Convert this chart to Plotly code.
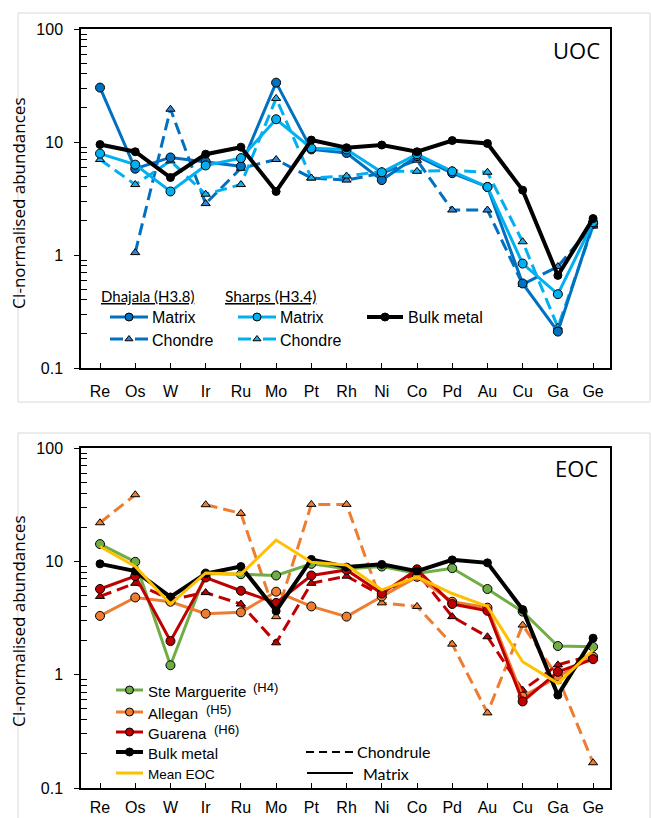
import plotly.graph_objects as go

W, H = 651, 818

# ---------------- data ----------------
elements = ["Re", "Os", "W", "Ir", "Ru", "Mo", "Pt", "Rh", "Ni", "Co", "Pd", "Au", "Cu", "Ga", "Ge"]
y_tick_vals = [0.1, 1, 10, 100]
y_tick_text = ["0.1", "1", "10", "100"]

# UOC panel
dhajala_matrix = [30.3, 5.8, 7.3, 6.7, 6.1, 33.5, 8.6, 8.0, 4.6, 7.5, 5.3, 4.0, 0.56, 0.21, 1.9]
dhajala_chondre = [None, 1.05, 19.5, 2.85, 5.85, 7.0, 4.8, 4.6, 5.3, 6.9, 2.5, 2.5, 0.55, 0.79, 1.85]
sharps_matrix = [7.9, 6.3, 3.65, 6.2, 7.2, 15.9, 8.8, 8.6, 5.4, 7.8, 5.5, 4.0, 0.84, 0.45, 1.95]
sharps_chondre = [7.0, 4.2, 6.8, 3.45, 4.2, 24.3, 4.8, 5.0, 5.5, 5.5, 5.6, 5.4, 1.31, 0.23, 1.8]
bulk_metal = [9.5, 8.2, 4.85, 7.8, 9.0, 3.65, 10.4, 8.9, 9.4, 8.2, 10.3, 9.7, 3.75, 0.66, 2.1]

# EOC panel
ste_marguerite = [14.2, 9.9, 1.21, 7.8, 7.7, 7.5, 9.5, 8.6, 9.0, 7.8, 8.7, 5.7, 3.6, 1.79, 1.76]
allegan = [3.3, 4.8, 4.4, 3.45, 3.55, 5.4, 4.0, 3.25, 4.9, 7.3, 4.4, 3.9, 0.64, 0.96, 1.44]
guarena = [5.7, 7.4, 1.98, 7.2, 5.5, 4.3, 7.5, 8.4, 5.2, 8.5, 4.2, 3.66, 0.58, 1.06, 1.37]
allegan_chondrule = [21.9, 38.7, None, 31.6, 26.5, 3.25, 31.8, 31.8, 4.3, 4.0, 1.86, 0.46, 2.74, 0.95, 0.167]
guarena_chondrule = [4.9, 6.4, 4.6, 5.3, 4.2, 1.91, 6.4, 7.4, 5.0, 8.0, 3.25, 2.16, 0.73, 1.22, 1.49]
mean_eoc = [13.5, 9.0, 4.2, 7.9, 7.7, 15.4, 9.8, 9.3, 5.6, 7.3, 5.2, 4.0, 1.3, 0.84, 1.65]

# minor tick positions (styling only)
minor_digits = [2, 3, 4, 5, 6, 7, 8, 9]
decades = [0.1, 1, 10]
minor_vals = [d * m for d in decades for m in minor_digits]

# ---------------- styles ----------------
C_DHA = "#0070C0"
C_SHA = "#00B0F0"
C_GRN = "#70AD47"
C_ORG = "#ED7D31"
C_RED = "#C00000"
C_YEL = "#FFC000"
ARIAL = "Liberation Sans, Arial, sans-serif"
CALI = "Lato, Calibri, sans-serif"
SEGOE = "Open Sans, Segoe UI, sans-serif"
DASH = "12px,6px"


def px(x):
    return x / W


def py(y):
    return 1 - y / H


fig = go.Figure()


def series(y, color, xa, ya, dash="solid", symbol="circle", width=3, mfill=None, size=9, mode="lines+markers"):
    fig.add_trace(go.Scatter(
        x=elements, y=y, mode=mode, xaxis=xa, yaxis=ya,
        line=dict(color=color, width=width, dash=dash),
        marker=dict(symbol=symbol, size=size, color=mfill or color, line=dict(color="black", width=1)),
        showlegend=False, hoverinfo="skip", connectgaps=False,
    ))


# top panel
series(dhajala_chondre, C_DHA, "x", "y", dash=DASH, symbol="triangle-up", mfill="#2E86D6", size=8)
series(sharps_chondre, C_SHA, "x", "y", dash=DASH, symbol="triangle-up", mfill="#1AAEE8", size=8)
series(dhajala_matrix, C_DHA, "x", "y")
series(sharps_matrix, C_SHA, "x", "y")
series(bulk_metal, "black", "x", "y", width=4, size=8, mfill="black")

# bottom panel
series(allegan_chondrule, C_ORG, "x2", "y2", dash=DASH, symbol="triangle-up", size=8)
series(guarena_chondrule, C_RED, "x2", "y2", dash=DASH, symbol="triangle-up", size=8)
series(ste_marguerite, C_GRN, "x2", "y2")
series(allegan, C_ORG, "x2", "y2")
series(guarena, C_RED, "x2", "y2")
series(bulk_metal, "black", "x2", "y2", width=4, size=8, mfill="black")
series(mean_eoc, C_YEL, "x2", "y2", mode="lines")


# ---------------- legends (drawn on an overlay pixel axis) ----------------
def leg_line(x0, x1, y, color, width=3, dash="solid"):
    fig.add_trace(go.Scatter(x=[x0, x1], y=[y, y], mode="lines", xaxis="x3", yaxis="y3",
                             line=dict(color=color, width=width, dash=dash),
                             showlegend=False, hoverinfo="skip"))


def leg_marker(x, y, color, symbol="circle", size=8):
    fig.add_trace(go.Scatter(x=[x], y=[y], mode="markers", xaxis="x3", yaxis="y3",
                             marker=dict(symbol=symbol, size=size, color=color, line=dict(color="black", width=1)),
                             showlegend=False, hoverinfo="skip"))


def text(x, y, s, size=16, family=ARIAL, xanchor="left", color="black", angle=0):
    fig.add_annotation(x=px(x), y=py(y), xref="paper", yref="paper", text=s, showarrow=False,
                       xanchor=xanchor, yanchor="middle", textangle=angle,
                       font=dict(family=family, size=size, color=color))


# top legend
text(99, 296, "<u>Dhajala (H3.8)</u>", size=15, family=CALI)
text(223, 296, "<u>Sharps (H3.4)</u>", size=15.5, family=CALI)
for x0, col, tri in [(110, C_DHA, "#2E86D6"), (238, C_SHA, "#1AAEE8")]:
    leg_line(x0, x0 + 38, 317, col)
    leg_marker(x0 + 19, 317, col)
    text(x0 + 40, 318, "Matrix")
    leg_line(x0, x0 + 13, 339, col)
    leg_line(x0 + 25, x0 + 38, 339, col)
    leg_marker(x0 + 19, 339, tri, symbol="triangle-up", size=7)
    text(x0 + 40, 340, "Chondre")
leg_line(367, 403, 317, "black", width=4)
leg_marker(385, 317, "black")
text(406, 318, "Bulk metal")

# bottom legend
for y, col, name, tag, tx in [(690, C_GRN, "Ste Marguerite", "(H4)", 251),
                              (712, C_ORG, "Allegan", "(H5)", 204),
                              (732, C_RED, "Guarena", "(H6)", 212)]:
    leg_line(116, 143, y, col)
    leg_marker(129.5, y, col)
    text(146, y + 1, name, size=15)
    text(tx, y - 3, tag, size=13)
leg_line(116, 143, 752, "black", width=4)
leg_marker(129.5, 752, "black")
text(146, 753, "Bulk metal", size=15)
leg_line(116, 143, 773, C_YEL, width=3)
text(146, 774, "Mean EOC", size=13.5)
leg_line(306, 353, 752, "black", width=2, dash="8px,5px")
text(355, 751, "Chondrule", family=CALI)
leg_line(307, 353, 773, "black", width=2)
text(361, 773, "Matrix", family=CALI)

# panel labels and axis titles
text(576, 50, "UOC", size=22, family=SEGOE, xanchor="center")
text(576, 468, "EOC", size=22, family=SEGOE, xanchor="center")
text(18, 203, "CI-normalised abundances", size=17, family=SEGOE, xanchor="center", angle=-90)
text(18, 621, "CI-normalised abundances", size=17, family=SEGOE, xanchor="center", angle=-90)

# chart-area frames
fig.add_shape(type="rect", xref="paper", yref="paper", x0=px(18), x1=px(650), y0=py(402), y1=py(13),
              line=dict(color="#D9D9D9", width=1), layer="below")
fig.add_shape(type="rect", xref="paper", yref="paper", x0=px(18), x1=px(650), y0=py(830), y1=py(433),
              line=dict(color="#D9D9D9", width=1), layer="below")


# ---------------- axes ----------------
def xaxis(anchor, standoff):
    return dict(type="category", categoryorder="array", categoryarray=elements, range=[-0.54, 14.48],
                showline=True, linecolor="black", linewidth=1.5, mirror=True,
                ticks="inside", ticklen=5, tickcolor="black", tickwidth=1,
                tickfont=dict(family=ARIAL, size=16, color="black"), ticklabelstandoff=standoff,
                showgrid=False, zeroline=False, domain=[px(81), px(610)], anchor=anchor)


def yaxis(anchor, dom):
    return dict(type="log", range=[-1, 2], tickmode="array", tickvals=y_tick_vals, ticktext=y_tick_text,
                showline=True, linecolor="black", linewidth=1.5, mirror=True,
                ticks="outside", ticklen=5, tickcolor="black", tickwidth=1,
                minor=dict(tickmode="array", tickvals=minor_vals, ticks="inside", ticklen=6,
                           tickcolor="black", tickwidth=1, showgrid=False),
                tickfont=dict(family=ARIAL, size=16, color="black"), ticklabelstandoff=8,
                showgrid=False, zeroline=False, anchor=anchor, domain=dom)


fig.update_layout(
    width=W, height=H, margin=dict(l=0, r=0, t=0, b=0, autoexpand=False),
    paper_bgcolor="white", plot_bgcolor="rgba(0,0,0,0)", showlegend=False,
    xaxis=xaxis("y", 8),
    yaxis=yaxis("x", [py(368), py(29)]),
    xaxis2=xaxis("y2", 4),
    yaxis2=yaxis("x2", [py(788), py(448)]),
    xaxis3=dict(domain=[0, 1], range=[0, W], visible=False, anchor="y3", fixedrange=True),
    yaxis3=dict(domain=[0, 1], range=[H, 0], visible=False, anchor="x3", fixedrange=True),
)

fig.write_html("out.html", config={"displayModeBar": False},
               post_script="document.body.style.margin='0px';")
